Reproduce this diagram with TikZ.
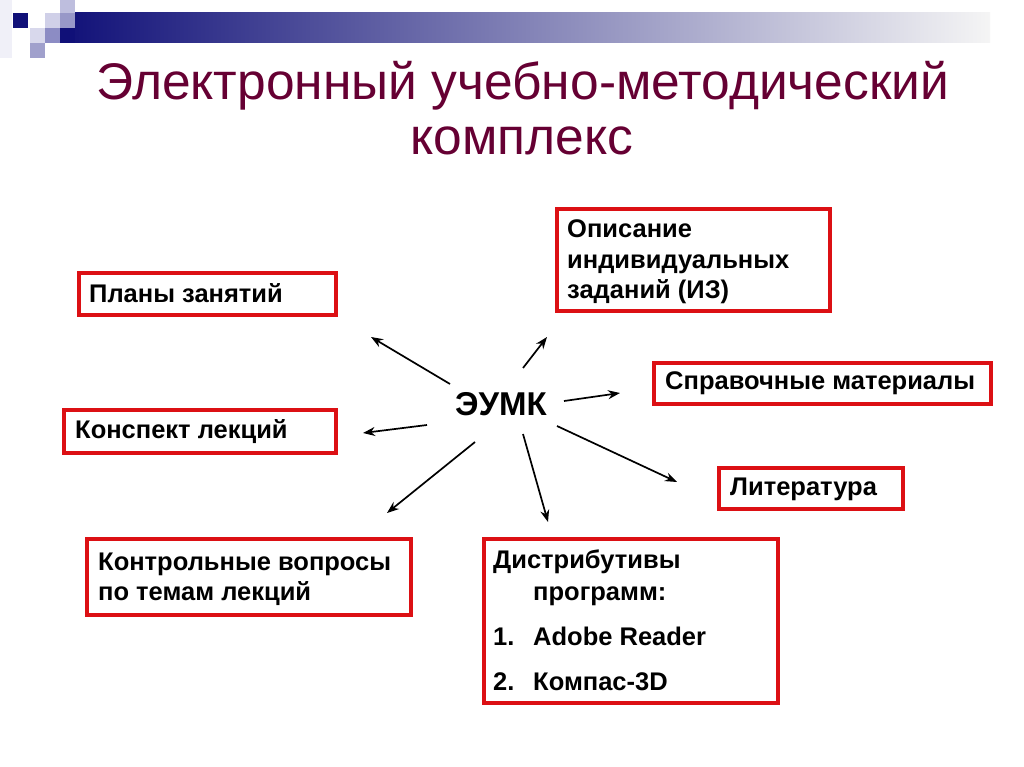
\documentclass[tikz,border=0pt]{standalone}
\usepackage{fontspec}
\setmainfont{Liberation Sans}
\usetikzlibrary{arrows.meta}
\definecolor{boxred}{RGB}{220,16,20}
\definecolor{titlecol}{RGB}{102,0,51}
\definecolor{navy}{RGB}{16,16,120}
\begin{document}
\begin{tikzpicture}[x=1pt,y=-1pt,
  redbox/.style={draw=boxred,line width=4pt,rectangle,inner sep=0pt,outer sep=0pt},
  boxtext/.style={anchor=base west,inner sep=0pt,align=left,font=\fontsize{25.5}{31}\selectfont\bfseries},
  titletext/.style={anchor=base,inner sep=0pt,text=titlecol,font=\fontsize{51.5}{60}\selectfont},
  arr/.style={line width=1.7pt,-{Stealth[length=12pt,width=9pt]}},
  sq/.style={draw=none}]
\useasboundingbox[fill=white] (0,0) rectangle (1024,767);
% decoration
\fill[left color=navy,right color=white!92!gray,draw=none] (60,13) rectangle (990,43);
\fill[sq,fill={rgb,255:red,240;green,240;blue,248}] (0,0) rectangle (12,58);
\fill[sq,fill=navy] (13,13) rectangle (28,28);
\fill[sq,fill={rgb,255:red,190;green,190;blue,222}] (60,0) rectangle (75,13);
\fill[sq,fill={rgb,255:red,208;green,208;blue,232}] (45,13) rectangle (60,28);
\fill[sq,fill={rgb,255:red,152;green,152;blue,200}] (60,13) rectangle (75,28);
\fill[sq,fill={rgb,255:red,216;green,216;blue,236}] (30,28) rectangle (45,43);
\fill[sq,fill={rgb,255:red,140;green,140;blue,196}] (45,28) rectangle (60,43);
\fill[sq,fill=navy] (60,28) rectangle (75,43);
\fill[sq,fill={rgb,255:red,160;green,160;blue,204}] (30,43) rectangle (45,58);
% title
\node[titletext] (title1) at (523,100) {Электронный учебно-методический};
\node[titletext] (title2) at (522,155) {комплекс};
% boxes
\node[redbox,minimum width=257,minimum height=42] (bplany) at (207.5,294) {};
\node[redbox,minimum width=272,minimum height=43] (bkonsp) at (200,431.5) {};
\node[redbox,minimum width=324,minimum height=76] (bkontr) at (249,577) {};
\node[redbox,minimum width=294,minimum height=164] (bdistr) at (631,621) {};
\node[redbox,minimum width=273,minimum height=102] (bopis) at (693.5,260) {};
\node[redbox,minimum width=337,minimum height=41] (bsprav) at (822.5,383.5) {};
\node[redbox,minimum width=184,minimum height=41] (bliter) at (811,488.5) {};
% texts
\node[boxtext] (tplany) at (89,302) {Планы занятий};
\node[boxtext] (tkonsp) at (75,438) {Конспект лекций};
\node[boxtext] (tkontr1) at (98,570) {Контрольные вопросы};
\node[boxtext] (tkontr2) at (98,600) {по темам лекций};
\node[boxtext] (topis1) at (567,237) {Описание};
\node[boxtext] (topis2) at (567,268) {индивидуальных};
\node[boxtext] (topis3) at (567,298) {заданий (ИЗ)};
\node[boxtext] (tsprav) at (665,389) {Справочные материалы};
\node[boxtext] (tliter) at (730,495) {Литература};
\node[boxtext] (tdistr1) at (493,568) {Дистрибутивы};
\node[boxtext] (tdistr2) at (533,600) {программ:};
\node[boxtext] (tnum1) at (493,645) {1.};
\node[boxtext] (tdistr3) at (533,645) {Adobe Reader};
\node[boxtext] (tnum2) at (493,690) {2.};
\node[boxtext] (tdistr4) at (533,690) {Компас-3D};
% centre
\node[anchor=base,inner sep=0pt,font=\fontsize{33}{36}\selectfont\bfseries] (eumk) at (501,415) {ЭУМК};
% arrow ends
\coordinate (s1) at (450,384); \coordinate (e1) at (371,337);
\coordinate (s2) at (523,368); \coordinate (e2) at (547,337);
\coordinate (s3) at (564,401); \coordinate (e3) at (620,393);
\coordinate (s4) at (427,425); \coordinate (e4) at (363,433);
\coordinate (s5) at (475,442); \coordinate (e5) at (387,513);
\coordinate (s6) at (523,434); \coordinate (e6) at (548,522);
\coordinate (s7) at (557,426); \coordinate (e7) at (677,482);
\draw[arr] (s1) -- (e1);
\draw[arr] (s2) -- (e2);
\draw[arr] (s3) -- (e3);
\draw[arr] (s4) -- (e4);
\draw[arr] (s5) -- (e5);
\draw[arr] (s6) -- (e6);
\draw[arr] (s7) -- (e7);
\end{tikzpicture}
\end{document}
